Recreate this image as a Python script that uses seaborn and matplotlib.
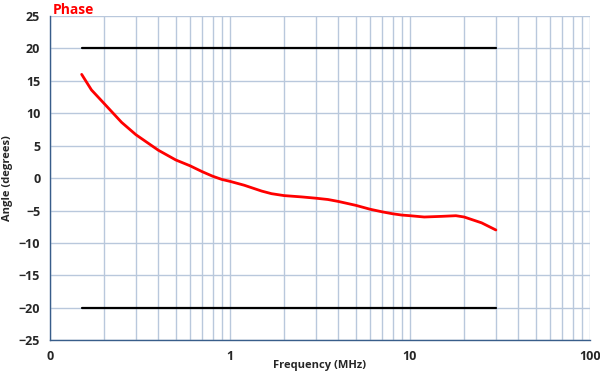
import pandas as pd
import matplotlib
matplotlib.use("Agg")
import matplotlib.pyplot as plt
import seaborn as sns
from matplotlib.ticker import FixedLocator, LogLocator, NullFormatter

# === Data ===
freq_mhz = [0.15, 0.17, 0.2, 0.25, 0.3, 0.4, 0.5, 0.6, 0.7, 0.8, 0.9, 1.0,
            1.2, 1.5, 1.7, 2.0, 2.5, 3.0, 3.5, 4.0, 5.0, 6.0, 7.0, 8.0, 9.0,
            10.0, 12.0, 15.0, 18.0, 20.0, 25.0, 30.0]
phase_deg = [16.0, 13.6, 11.5, 8.6, 6.7, 4.3, 2.8, 1.9, 1.0, 0.3, -0.2, -0.5,
             -1.1, -2.0, -2.4, -2.7, -2.9, -3.1, -3.3, -3.6, -4.2, -4.8, -5.2, -5.5, -5.7,
             -5.8, -6.0, -5.9, -5.8, -6.0, -6.9, -8.0]
limit_freq = [0.15, 30.0]
upper_limit = [20, 20]
lower_limit = [-20, -20]

x_ticks = [0.1, 1, 10, 100]
x_tick_labels = ["0", "1", "10", "100"]
y_ticks = list(range(-25, 30, 5))

df = pd.DataFrame({"freq": freq_mhz, "phase": phase_deg})
limits = pd.DataFrame({"freq": limit_freq, "upper": upper_limit, "lower": lower_limit})

sns.set_style("white")
plt.rcParams["font.family"] = ["Open Sans", "DejaVu Sans"]

fig = plt.figure(figsize=(6, 3.73), dpi=100)
ax = fig.add_axes([0.0833, 0.088, 0.9, 0.869])

grid_col = "#b9c8dc"
axis_col = "#385d8a"
ax.set_xscale("log")
ax.set_xlim(0.1, 100)
ax.set_ylim(-25, 25)

# grid
ax.xaxis.set_major_locator(FixedLocator(x_ticks))
ax.xaxis.set_minor_locator(LogLocator(base=10, subs=range(2, 10)))
ax.xaxis.set_minor_formatter(NullFormatter())
ax.set_yticks(y_ticks)
ax.grid(True, which="both", axis="x", color=grid_col, linewidth=1.0)
ax.grid(True, which="major", axis="y", color=grid_col, linewidth=1.0)
ax.set_axisbelow(True)

sns.lineplot(data=limits, x="freq", y="upper", color="black", linewidth=1.6, ax=ax)
sns.lineplot(data=limits, x="freq", y="lower", color="black", linewidth=1.6, ax=ax)
sns.lineplot(data=df, x="freq", y="phase", color="#ff0000", linewidth=2.0, ax=ax)

ax.set_xticklabels(x_tick_labels)
ax.tick_params(axis="x", which="minor", length=0)
ax.tick_params(axis="both", which="major", length=4, color=axis_col, direction="out",
               labelsize=9, pad=3)
for lab in ax.get_xticklabels() + ax.get_yticklabels():
    lab.set_fontweight("bold")

for side in ["top", "right"]:
    ax.spines[side].set_visible(False)
for side in ["left", "bottom"]:
    ax.spines[side].set_color(axis_col)
    ax.spines[side].set_linewidth(1.0)

ax.set_xlabel("Frequency (MHz)", fontsize=8, fontweight="bold")
ax.xaxis.set_label_coords(0.5, -0.062)
ax.set_ylabel("Angle (degrees)", fontsize=8, fontweight="bold", labelpad=4)
ax.text(0.005, 1.006, "Phase", transform=ax.transAxes, color="#ff0000",
        fontsize=10, fontweight="bold", ha="left", va="baseline")

fig.savefig("out.png", dpi=100)
